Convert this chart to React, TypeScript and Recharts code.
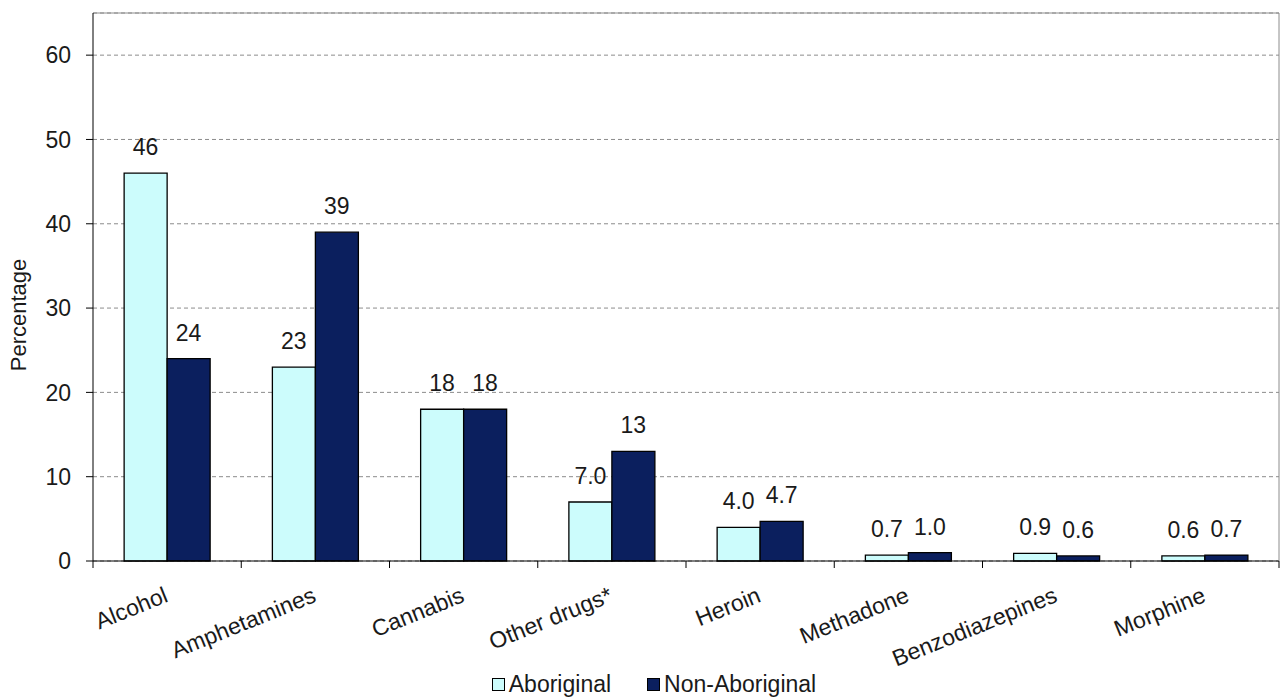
import React from "react";
import {
  BarChart,
  Bar,
  XAxis,
  YAxis,
  CartesianGrid,
  LabelList,
  Legend,
  ReferenceLine,
} from "recharts";

// drug types and percentages per group
const categories = [
  "Alcohol",
  "Amphetamines",
  "Cannabis",
  "Other drugs*",
  "Heroin",
  "Methadone",
  "Benzodiazepines",
  "Morphine",
];
const aboriginal = [46, 23, 18, 7.0, 4.0, 0.7, 0.9, 0.6];
const nonAboriginal = [24, 39, 18, 13, 4.7, 1.0, 0.6, 0.7];
const seriesNames = ["Aboriginal", "Non-Aboriginal"];
const yTicks = [0, 10, 20, 30, 40, 50, 60];

const data = categories.map((name, i) => ({
  name,
  aboriginal: aboriginal[i],
  nonAboriginal: nonAboriginal[i],
}));

const FONT = '"Liberation Sans", Arial, sans-serif';
const TEXT = "#1a1a1a";
const LIGHT = "#ccfcfc";
const NAVY = "#0b1f5e";
const BORDER = "#8c8c8c";

const fmt = (v: any) => (Number(v) < 10 ? Number(v).toFixed(1) : String(v));

// category ticks sit on the band boundaries, labels are slanted under the centre
const CategoryTick = (props: any) => {
  const { x, y, payload, index } = props;
  const half = payload?.offset ?? 74;
  const tx = x - 4;
  const ty = y + 25;
  return (
    <g>
      <line x1={x - half} y1={y} x2={x - half} y2={y + 7} stroke="#000" />
      {index === categories.length - 1 && (
        <line x1={x + half} y1={y} x2={x + half} y2={y + 7} stroke="#000" />
      )}
      <text
        x={tx}
        y={ty}
        dy="0.71em"
        textAnchor="end"
        transform={`rotate(-22, ${tx}, ${ty})`}
        fontFamily={FONT}
        fontSize={23}
        fill={TEXT}
      >
        {payload.value}
      </text>
    </g>
  );
};

const YLabel = (props: any) => {
  const { viewBox } = props;
  const x = viewBox.x + 18;
  const y = viewBox.y + viewBox.height / 2 + 28;
  return (
    <text
      x={x}
      y={y}
      transform={`rotate(-90, ${x}, ${y})`}
      textAnchor="middle"
      dominantBaseline="central"
      fontFamily={FONT}
      fontSize={22}
      fill={TEXT}
    >
      Percentage
    </text>
  );
};

const LegendContent = () => {
  const fills = [LIGHT, NAVY];
  return (
    <div
      style={{
        display: "flex",
        justifyContent: "center",
        alignItems: "center",
        gap: 36,
        paddingLeft: 26,
        fontFamily: FONT,
        fontSize: 23,
        color: TEXT,
        lineHeight: "26px",
      }}
    >
      {seriesNames.map((name, i) => (
        <span key={name} style={{ display: "flex", alignItems: "center" }}>
          <span
            style={{
              display: "inline-block",
              width: 11,
              height: 11,
              background: fills[i],
              border: "1px solid #000",
              marginRight: 4,
            }}
          />
          {name}
        </span>
      ))}
    </div>
  );
};

export default function App() {
  return (
    <div style={{ position: "absolute", left: 0, top: 0, width: 1282, height: 697, background: "#fff" }}>
      <BarChart
        width={1282}
        height={697}
        data={data}
        margin={{ top: 13, right: 0, left: 0, bottom: 0 }}
        barCategoryGap="21%"
        barGap={0}
      >
        <CartesianGrid vertical={false} strokeDasharray="4 3" stroke={BORDER} />
        <ReferenceLine y={65} stroke={BORDER} />
        <XAxis
          dataKey="name"
          height={106}
          tickSize={0}
          tickMargin={0}
          tickLine={false}
          axisLine={{ stroke: "#000" }}
          interval={0}
          tick={<CategoryTick />}
        />
        <YAxis
          width={93}
          domain={[0, 65]}
          ticks={yTicks}
          tickSize={7}
          tickMargin={15}
          axisLine={{ stroke: "#000" }}
          tickLine={{ stroke: "#000" }}
          tick={{ fontFamily: FONT, fontSize: 23, fill: TEXT }}
          label={<YLabel />}
        />
        <YAxis
          yAxisId="right"
          orientation="right"
          width={3}
          tick={false}
          tickLine={false}
          axisLine={{ stroke: BORDER }}
        />
        <Legend
          verticalAlign="bottom"
          height={30}
          content={<LegendContent />}
          wrapperStyle={{ left: 0, width: 1282, bottom: -4 }}
        />
        <Bar
          dataKey="aboriginal"
          name={seriesNames[0]}
          fill={LIGHT}
          stroke="#000"
          strokeWidth={1.3}
          isAnimationActive={false}
        >
          <LabelList
            dataKey="aboriginal"
            position="top"
            offset={18}
            formatter={fmt}
            style={{ fontFamily: FONT, fontSize: 23, fill: TEXT }}
          />
        </Bar>
        <Bar
          dataKey="nonAboriginal"
          name={seriesNames[1]}
          fill={NAVY}
          stroke="#000"
          strokeWidth={1.3}
          isAnimationActive={false}
        >
          <LabelList
            dataKey="nonAboriginal"
            position="top"
            offset={18}
            formatter={fmt}
            style={{ fontFamily: FONT, fontSize: 23, fill: TEXT }}
          />
        </Bar>
      </BarChart>
    </div>
  );
}
